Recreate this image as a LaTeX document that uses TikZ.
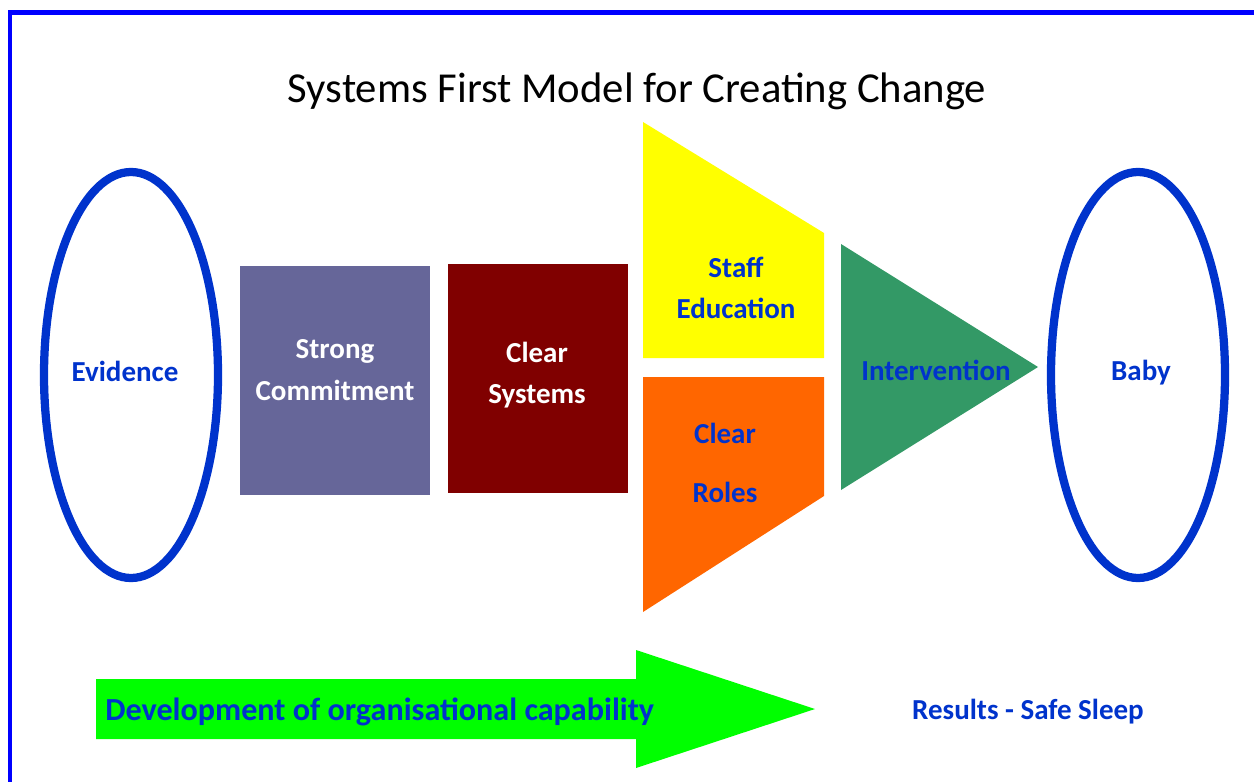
\documentclass[tikz,border=0pt]{standalone}
\usepackage{fontspec}
\setmainfont{Carlito}
\definecolor{frameblue}{HTML}{0000FF}
\definecolor{ellblue}{HTML}{0033CC}
\definecolor{txtblue}{HTML}{0033CC}
\definecolor{arrgreen}{HTML}{00FF00}
\definecolor{trigreen}{HTML}{339966}
\definecolor{orng}{HTML}{FF6600}
\definecolor{yel}{HTML}{FFFF00}
\definecolor{purp}{HTML}{666699}
\definecolor{maroon}{HTML}{800000}
\tikzset{
  lbl/.style={font=\fontsize{16.5}{23.5}\selectfont\bfseries, text=txtblue, align=center, inner sep=0pt},
  wlbl/.style={lbl, text=white},
  ring/.style={draw=ellblue, line width=4.7pt},
}
\begin{document}
\begin{tikzpicture}[x=0.02cm, y=-0.02cm]
\useasboundingbox (0,0) rectangle (1254,781);
% frame
\draw[frameblue, line width=2.8pt] (10,790) -- (10,12.5) -- (1260,12.5);
% title
\node[font=\fontsize{24.3}{29}\selectfont, inner sep=0pt] (title) at (637,91) {Systems First Model for Creating Change};
% ellipses
\draw[ring] (131,375) ellipse [x radius=87, y radius=203];
\draw[ring] (1138,375) ellipse [x radius=87, y radius=203];
% boxes
\fill[purp] (240,266) rectangle (430,495);
\fill[maroon] (448,264) rectangle (628,493);
\fill[yel] (643,122) -- (824,233) -- (824,358) -- (643,358) -- cycle;
\fill[orng] (643,377) -- (824,377) -- (824,496) -- (643,612) -- cycle;
\fill[trigreen] (841,244) -- (1038,367) -- (841,490) -- cycle;
% green arrow
\fill[arrgreen] (96,679) -- (636,679) -- (636,650) -- (815,709) -- (636,768) -- (636,739) -- (96,739) -- cycle;
% labels
\node[lbl] (evidence) at (125,371) {Evidence};
\node[wlbl] (strong) at (335,370) {Strong\\Commitment};
\node[wlbl] (clearsys) at (537,375) {Clear\\Systems};
\node[lbl] (staff) at (736,288) {Staff\\Education};
\node[lbl] (roles) at (725,463) {Clear\\[10pt]Roles};
\node[lbl] (interv) at (936,370) {Intervention};
\node[lbl] (baby) at (1141,373) {Baby};
\node[lbl, anchor=west, font=\fontsize{18.3}{22}\selectfont\bfseries] (dev) at (105,712) {Development of organisational capability};
\node[lbl] (results) at (1028,712) {Results - Safe Sleep};
\end{tikzpicture}
\end{document}
